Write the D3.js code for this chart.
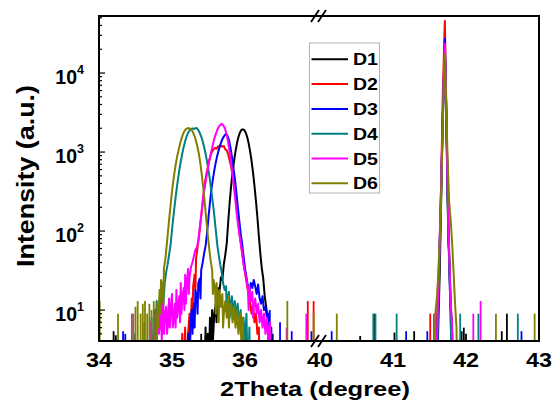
<!DOCTYPE html>
<html>
<head>
<meta charset="utf-8">
<script src="https://cdn.jsdelivr.net/npm/d3@7"></script>
<style>
  body { margin: 0; background: #fff; }
  text { font-family: "Liberation Sans", Arial, sans-serif; font-weight: bold; fill: #000; }
</style>
</head>
<body>
<div id="chart"></div>
<script>
const names = ["D1", "D2", "D3", "D4", "D5", "D6"];
const xTicks = [34, 35, 36, 40, 41, 42, 43];
const yExps = [1, 2, 3, 4];

// [2theta, counts] around the 35-36 degree peak
const d1Peak = [[35.44,1],[35.46,6],[35.47,1],[35.49,5],[35.50,1],[35.52,8],[35.53,3],[35.55,10],[35.56,4],[35.58,9],[35.60,12],[35.61,7],[35.63,19],[35.65,17],[35.67,26],[35.69,24],[35.71,38],[35.73,50],[35.75,70],[35.77,130],[35.79,230],[35.81,373],[35.83,550],[35.85,770],[35.87,1020],[35.89,1290],[35.91,1550],[35.93,1760],[35.95,1900],[35.97,1940],[35.99,1900],[36.01,1760],[36.03,1550],[36.05,1290],[36.07,1020],[36.09,770],[36.11,550],[36.13,373],[36.15,240],[36.17,148],[36.19,86],[36.21,52],[36.23,34],[36.25,25],[36.27,15],[36.29,11],[36.31,8],[36.32,4],[36.34,6],[36.35,1]];
const d2Peak = [[35.12,1],[35.14,5],[35.15,1],[35.18,6],[35.19,1],[35.22,5],[35.24,9],[35.25,4],[35.27,14],[35.28,8],[35.29,20],[35.31,28],[35.32,18],[35.33,45],[35.35,62],[35.37,85],[35.39,125],[35.41,185],[35.43,280],[35.45,400],[35.47,520],[35.49,640],[35.51,790],[35.53,900],[35.55,1020],[35.57,1080],[35.59,1130],[35.61,1100],[35.63,1180],[35.65,1150],[35.67,1210],[35.69,1170],[35.71,1190],[35.73,1080],[35.75,1050],[35.77,930],[35.79,780],[35.81,650],[35.83,520],[35.85,390],[35.87,270],[35.89,180],[35.91,125],[35.93,85],[35.95,62],[35.97,45],[35.99,34],[36.01,26],[36.03,20],[36.05,16],[36.07,12],[36.09,9],[36.11,12],[36.13,7],[36.15,9],[36.17,5],[36.19,6],[36.20,1]];
const d3Peak = [[35.20,1],[35.22,5],[35.23,1],[35.25,7],[35.27,10],[35.28,5],[35.30,12],[35.31,6],[35.32,18],[35.34,15],[35.35,9],[35.36,22],[35.38,25],[35.39,14],[35.40,32],[35.42,40],[35.44,52],[35.46,65],[35.48,95],[35.50,150],[35.52,230],[35.54,340],[35.56,450],[35.58,590],[35.60,740],[35.62,900],[35.64,1060],[35.66,1230],[35.68,1380],[35.70,1520],[35.72,1620],[35.74,1700],[35.76,1600],[35.78,1420],[35.80,1150],[35.82,880],[35.84,640],[35.86,470],[35.88,320],[35.90,210],[35.92,140],[35.94,95],[35.96,70],[35.98,48],[36.00,34],[36.02,26],[36.04,20],[36.06,17],[36.08,22],[36.10,19],[36.12,24],[36.14,20],[36.16,16],[36.18,21],[36.20,14],[36.22,12],[36.24,15],[36.26,10],[36.28,11],[36.30,8],[36.32,9],[36.34,5],[36.36,6],[36.37,1]];
const d4Peak = [[34.70,1],[34.72,8],[34.73,1],[34.76,10],[34.77,4],[34.79,13],[34.80,6],[34.81,9],[34.83,14],[34.84,7],[34.85,12],[34.87,18],[34.88,11],[34.90,22],[34.92,30],[34.94,38],[34.96,50],[34.98,67],[35.00,103],[35.02,155],[35.04,226],[35.06,320],[35.08,440],[35.10,590],[35.12,760],[35.14,950],[35.16,1160],[35.18,1370],[35.20,1570],[35.22,1745],[35.24,1880],[35.26,1950],[35.28,1990],[35.30,1960],[35.32,2000],[35.34,2010],[35.36,1900],[35.38,1745],[35.40,1570],[35.42,1370],[35.44,1160],[35.46,950],[35.48,760],[35.50,590],[35.52,440],[35.54,320],[35.56,226],[35.58,155],[35.60,103],[35.62,67],[35.64,50],[35.66,38],[35.68,30],[35.70,22],[35.72,18],[35.74,20],[35.75,10],[35.76,14],[35.78,17],[35.79,8],[35.80,11],[35.82,15],[35.84,9],[35.86,13],[35.88,8],[35.90,12],[35.92,6],[35.94,10],[35.96,5],[35.98,8],[36.00,4],[36.02,9],[36.04,1],[36.06,6],[36.07,1]];
const d5Peak = [[34.76,1],[34.78,9],[34.79,4],[34.81,12],[34.82,5],[34.83,6],[34.85,10],[34.86,4],[34.88,13],[34.89,5],[34.90,8],[34.92,11],[34.93,5],[34.94,6],[34.96,14],[34.97,6],[34.98,9],[35.00,16],[35.01,6],[35.02,7],[35.04,12],[35.05,6],[35.06,18],[35.07,8],[35.08,10],[35.10,15],[35.11,7],[35.12,22],[35.13,9],[35.14,13],[35.16,19],[35.17,10],[35.18,28],[35.19,12],[35.20,20],[35.22,33],[35.23,16],[35.24,26],[35.26,35],[35.28,40],[35.30,48],[35.32,58],[35.34,62],[35.36,75],[35.38,110],[35.40,160],[35.42,230],[35.44,320],[35.46,420],[35.48,540],[35.50,680],[35.52,850],[35.54,1030],[35.56,1250],[35.58,1480],[35.60,1700],[35.62,1900],[35.64,2080],[35.66,2200],[35.68,2280],[35.70,2200],[35.72,2050],[35.74,1800],[35.76,1480],[35.78,1150],[35.80,860],[35.82,600],[35.84,420],[35.86,290],[35.88,190],[35.90,130],[35.92,95],[35.94,72],[35.96,55],[35.98,38],[36.00,30],[36.02,25],[36.04,18],[36.05,10],[36.06,20],[36.08,13],[36.10,17],[36.11,8],[36.12,11],[36.14,14],[36.16,9],[36.18,12],[36.20,7],[36.22,10],[36.24,6],[36.26,9],[36.28,5],[36.30,8],[36.32,4],[36.34,7],[36.36,1]];
const d6Peak = [[34.78,1],[34.80,12],[34.81,6],[34.83,18],[34.84,9],[34.85,24],[34.87,20],[34.88,12],[34.89,34],[34.91,45],[34.93,70],[34.95,110],[34.97,170],[34.99,260],[35.01,380],[35.03,520],[35.05,690],[35.07,870],[35.09,1060],[35.11,1260],[35.13,1480],[35.15,1680],[35.17,1840],[35.19,1950],[35.21,1990],[35.23,2010],[35.25,1980],[35.27,1900],[35.29,1760],[35.31,1580],[35.33,1370],[35.35,1150],[35.37,930],[35.39,700],[35.41,500],[35.43,340],[35.45,220],[35.47,140],[35.49,90],[35.51,60],[35.53,42],[35.55,32],[35.56,16],[35.57,24],[35.59,18],[35.60,9],[35.61,22],[35.63,14],[35.64,7],[35.65,18],[35.67,11],[35.69,16],[35.70,6],[35.71,9],[35.73,13],[35.75,8],[35.77,15],[35.78,6],[35.79,10],[35.81,12],[35.83,7],[35.85,11],[35.87,6],[35.89,10],[35.91,5],[35.93,9],[35.95,4],[35.97,8],[35.99,1]];

// [2theta, counts] around the sharp 41.7 degree peak
const d1Sharp = [[41.60,1],[41.62,6],[41.64,30],[41.66,250],[41.68,2500],[41.71,20000],[41.73,2500],[41.75,200],[41.76,70],[41.77,50],[41.79,12],[41.81,5],[41.83,1]];
const d2Sharp = [[41.58,1],[41.60,7],[41.62,15],[41.64,60],[41.66,400],[41.68,4500],[41.71,45500],[41.73,4000],[41.75,300],[41.77,45],[41.79,11],[41.81,5],[41.82,1]];
const d3Sharp = [[41.59,1],[41.61,6],[41.63,35],[41.65,150],[41.67,900],[41.69,5000],[41.71,27000],[41.73,3500],[41.75,280],[41.77,35],[41.79,9],[41.81,1]];
const d4Sharp = [[41.59,1],[41.61,5],[41.63,25],[41.65,130],[41.67,800],[41.69,4500],[41.71,21000],[41.73,3000],[41.75,220],[41.77,40],[41.79,8],[41.81,1]];
const d5Sharp = [[41.59,1],[41.61,8],[41.63,40],[41.65,180],[41.67,1000],[41.69,5500],[41.71,23500],[41.73,3200],[41.75,300],[41.77,50],[41.79,13],[41.81,6],[41.82,1]];
const d6Sharp = [[41.56,1],[41.58,9],[41.60,14],[41.62,28],[41.64,80],[41.66,300],[41.68,2200],[41.70,10000],[41.71,17000],[41.73,3500],[41.75,700],[41.77,230],[41.79,140],[41.81,70],[41.83,30],[41.85,12],[41.87,6],[41.88,1]];

// single-point noise counts in the background, [2theta, counts]
const d1Spikes = [[34.20,5.4],[34.23,4.8],[35.40,5],[36.38,5],[40.55,4.7],[40.74,9],[41.02,5.2],[41.29,5.4],[41.94,5.4],[41.97,6],[42.00,5],[42.49,5.4],[42.56,9]];
const d2Spikes = [[36.86,13],[36.94,13],[41.51,9]];
const d3Spikes = [[34.33,5.4],[34.36,5],[36.34,10],[36.48,7],[36.64,5.4],[36.91,5.4],[40.16,5.4],[41.18,5.4],[41.47,5.4],[42.76,5.4]];
const d4Spikes = [[34.48,5],[34.62,7],[40.73,9],[40.76,9],[41.05,9],[41.92,9],[42.17,9],[42.71,9]];
const d5Spikes = [[34.45,9],[34.70,7],[36.57,6],[36.84,9],[41.56,9],[42.10,9],[42.20,13]];
const d6Spikes = [[34.01,13],[34.26,9],[34.47,9],[34.50,11],[34.53,13],[34.57,9],[34.60,12],[34.63,13],[34.66,9],[34.69,12],[34.72,10],[34.75,13],[36.58,13],[36.94,9],[40.23,9],[42.41,9],[42.94,9]];

const peaks = [d1Peak, d2Peak, d3Peak, d4Peak, d5Peak, d6Peak];
const sharps = [d1Sharp, d2Sharp, d3Sharp, d4Sharp, d5Sharp, d6Sharp];
const spikes = [d1Spikes, d2Spikes, d3Spikes, d4Spikes, d5Spikes, d6Spikes];

const colors = ["#000000", "#ff0000", "#0000ff", "#008080", "#ff00ff", "#808000"];

const W = 554, H = 404;
const L = 99, R = 539, T = 16, B = 341;

const svg = d3.select("#chart").append("svg")
  .attr("width", W).attr("height", H);

// broken axis: 34-37 then 40-43
const x = d3.scaleLinear().domain([34, 37, 40, 43]).range([L, 318, 320, R]);
const y = d3.scaleLog().domain([4.06, 52700]).range([B, T]);

svg.append("clipPath").attr("id", "plot")
  .append("rect").attr("x", L).attr("y", T).attr("width", R - L).attr("height", B - T);

const g = svg.append("g").attr("clip-path", "url(#plot)");
const line = d3.line().x(d => x(d[0])).y(d => y(d[1]));

names.forEach((n, i) => {
  g.append("path").datum(peaks[i])
    .attr("d", line).attr("fill", "none")
    .attr("stroke", colors[i]).attr("stroke-width", 2)
    .attr("stroke-linejoin", "round");
  g.append("path").datum(sharps[i])
    .attr("d", line).attr("fill", "none")
    .attr("stroke", colors[i]).attr("stroke-width", 2)
    .attr("stroke-linejoin", "round");
  g.selectAll(null).data(spikes[i]).enter().append("line")
    .attr("x1", d => x(d[0])).attr("x2", d => x(d[0]))
    .attr("y1", y(1)).attr("y2", d => y(d[1]))
    .attr("stroke", colors[i]).attr("stroke-width", 1.8);
});

// frame
svg.append("rect").attr("x", L).attr("y", T).attr("width", R - L).attr("height", B - T)
  .attr("fill", "none").attr("stroke", "#000").attr("stroke-width", 2);

// y ticks (inside)
const yt = [];
[1, 10, 100, 1000, 10000].forEach(dec => {
  for (let k = 1; k <= 9; k++) {
    const v = k * dec;
    if (v >= y.domain()[0] && v <= y.domain()[1]) yt.push({ v: v, major: k === 1 });
  }
});
svg.selectAll(".yt").data(yt).enter().append("line")
  .attr("x1", L).attr("x2", d => L + (d.major ? 6 : 3))
  .attr("y1", d => y(d.v)).attr("y2", d => y(d.v))
  .attr("stroke", "#000").attr("stroke-width", 1.2);

yExps.forEach(e => {
  const t = svg.append("text")
    .attr("x", 84).attr("y", y(Math.pow(10, e)) + 10.5)
    .attr("text-anchor", "end").style("font-size", "19.5px");
  t.append("tspan").text("10");
  t.append("tspan").attr("dy", -9.5).style("font-size", "12.5px").text(e);
});

xTicks.forEach(v => {
  svg.append("text")
    .attr("x", x(v)).attr("y", 367)
    .attr("text-anchor", "middle").style("font-size", "20px")
    .attr("textLength", 26).attr("lengthAdjust", "spacingAndGlyphs")
    .text(v);
});

// break marks
[T, B].forEach(yy => {
  [-4, 3].forEach(dx => {
    svg.append("line")
      .attr("x1", 319 + dx - 4).attr("y1", yy + 6)
      .attr("x2", 319 + dx + 4).attr("y2", yy - 6)
      .attr("stroke", "#000").attr("stroke-width", 1.8);
  });
});

// axis titles
svg.append("text")
  .attr("x", 315).attr("y", 396)
  .attr("text-anchor", "middle").style("font-size", "21px")
  .attr("textLength", 190).attr("lengthAdjust", "spacingAndGlyphs")
  .text("2Theta (degree)");

svg.append("text")
  .attr("transform", "translate(34,176) rotate(-90)")
  .attr("text-anchor", "middle").style("font-size", "24px")
  .attr("textLength", 182).attr("lengthAdjust", "spacingAndGlyphs")
  .text("Intensity (a.u.)");

// legend
const lg = svg.append("g");
lg.append("rect").attr("x", 309.5).attr("y", 43).attr("width", 70).attr("height", 150)
  .attr("fill", "#fff").attr("stroke", "#b4b4b4").attr("stroke-width", 1);
names.forEach((n, i) => {
  const cy = 59.3 + i * 24.8;
  lg.append("line").attr("x1", 311.5).attr("x2", 348).attr("y1", cy).attr("y2", cy)
    .attr("stroke", colors[i]).attr("stroke-width", 2);
  lg.append("text").attr("x", 353).attr("y", cy + 6)
    .style("font-size", "17px")
    .attr("textLength", 25).attr("lengthAdjust", "spacingAndGlyphs")
    .text(n);
});
</script>
</body>
</html>
